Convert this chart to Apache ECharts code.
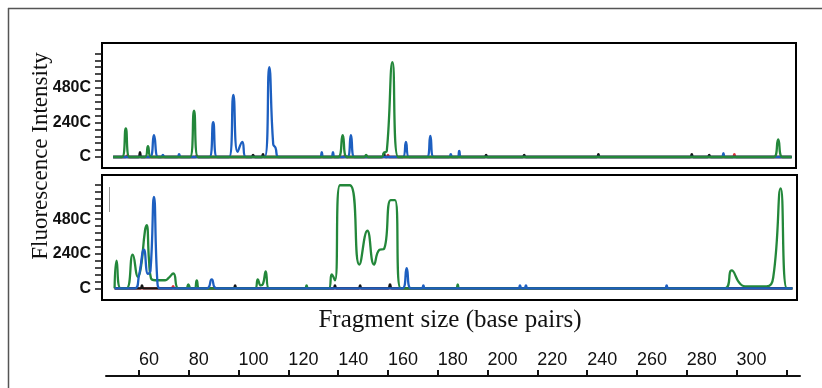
<!DOCTYPE html>
<html>
<head>
<meta charset="utf-8">
<script src="https://cdn.jsdelivr.net/npm/echarts@6/dist/echarts.min.js"></script>
<style>
  html, body { margin: 0; padding: 0; background: #fff; }
  #chart { width: 822px; height: 388px; }
</style>
</head>
<body>
<div id="chart"></div>
<script>
// fragment size ticks (base pairs)
const xTicks = [60, 80, 100, 120, 140, 160, 180, 200, 220, 240, 260, 280, 300, 320];
const xLabels = [60, 80, 100, 120, 140, 160, 180, 200, 220, 240, 260, 280, 300];
// fluorescence ticks
const yTicks = [0, 480, 960, 1440, 1920, 2400, 2880, 3360, 3840, 4320, 4800, 5280, 5760, 6240, 6720, 7200];
const yLabelValues = [0, 2400, 4800];
const yLabels = ['C', '240C', '480C'];

// top trace, [size bp, intensity]
const topGreen = [
  [49.6, 0], [53.2, 0], [54.7, 1990], [56.2, 0],
  [62.4, 0], [63.6, 750], [64.8, 0],
  [80.5, 0], [82.1, 3220], [83.7, 0],
  [140.0, 0], [141.8, 1510], [143.5, 0],
  [150.5, 0], [151.2, 150], [152.0, 0],
  [157.4, 0], [158.4, 300], [159.5, 400], [161.8, 6590], [164.1, 0],
  [315.0, 0], [316.7, 1230], [318.4, 0],
  [322.1, 0]
];
const topBlue = [
  [49.6, 0], [64.4, 0], [66.0, 1510], [67.6, 0],
  [69.0, 0], [69.6, 150], [70.3, 0],
  [75.5, 0], [76.1, 200], [76.8, 0],
  [88.3, 0], [89.8, 2420], [91.3, 0],
  [96.2, 0], [97.9, 4320], [99.6, 350], [101.5, 1050], [102.9, 0],
  [110.5, 0], [112.3, 6240], [113.9, 900], [114.8, 650], [116.0, 0],
  [132.8, 0], [133.4, 340], [134.0, 0],
  [137.3, 0], [137.9, 340], [138.5, 0],
  [143.7, 0], [145.1, 1510], [146.5, 0],
  [166.0, 0], [167.2, 1050], [168.4, 0],
  [175.7, 0], [177.0, 1460], [178.3, 0],
  [184.6, 0], [185.2, 200], [185.8, 0],
  [188.0, 0], [188.6, 430], [189.3, 0],
  [294.1, 0], [294.7, 270], [295.3, 0],
  [322.1, 0]
];
const topBlack = [
  [49.6, 0], [59.8, 0], [60.4, 340], [61.0, 0],
  [105.2, 0], [105.8, 150], [106.5, 0],
  [109.2, 0], [109.8, 200], [110.4, 0],
  [157.8, 0], [158.4, 300], [159.0, 0],
  [198.8, 0], [199.4, 150], [200.0, 0],
  [214.1, 0], [214.7, 150], [215.3, 0],
  [243.9, 0], [244.5, 200], [245.1, 0],
  [281.4, 0], [282.0, 200], [282.6, 0],
  [288.4, 0], [289.0, 150], [289.6, 0],
  [322.1, 0]
];
const topRed = [
  [49.6, 0], [54.6, 0], [55.2, 100], [55.8, 0],
  [82.6, 0], [83.2, 100], [83.8, 0],
  [142.1, 0], [142.7, 120], [143.3, 0],
  [159.4, 0], [160.0, 150], [160.6, 0],
  [298.5, 0], [299.1, 200], [299.7, 0],
  [322.1, 0]
];

// bottom trace
const botGreen = [
  [50.2, 0], [51.0, 1920], [52.6, 0],
  [55.0, 0], [57.5, 2330], [59.6, 800], [60.8, 1500], [62.4, 4000], [63.1, 4390], [64.0, 2000], [64.8, 700],
  [66.5, 560], [70.5, 560], [71.8, 700], [73.8, 1030], [75.8, 0],
  [79.0, 0], [79.8, 270], [80.8, 0],
  [82.3, 0], [83.2, 550], [84.2, 0],
  [106.6, 0], [107.7, 620], [108.9, 200], [109.8, 300], [110.9, 1170], [112.2, 0],
  [126.7, 0], [127.3, 200], [127.9, 0],
  [136.2, 0], [137.4, 960], [138.7, 550], [140.7, 7160], [144.7, 7160], [148.5, 1650],
  [151.7, 4000], [154.4, 1650], [156.5, 2670], [158.4, 2740], [161.1, 6130], [162.8, 6130], [165.1, 0],
  [187.4, 0], [188.0, 270], [188.6, 0],
  [295.3, 0], [298.0, 1240], [301.5, 300], [304.3, 140], [312.0, 140], [314.7, 750], [317.7, 6950], [320.2, 0],
  [322.4, 0]
];
const botBlue = [
  [50.2, 0], [58.4, 0], [60.0, 900], [62.0, 2680], [63.6, 1000], [64.6, 1200], [66.0, 6360], [67.4, 400], [68.4, 0],
  [87.2, 0], [89.2, 620], [91.2, 0],
  [165.9, 0], [167.5, 1400], [169.1, 0],
  [173.6, 0], [174.2, 200], [174.8, 0],
  [212.4, 0], [213.0, 200], [213.6, 0],
  [214.8, 0], [215.4, 200], [216.0, 0],
  [271.3, 0], [271.9, 200], [272.5, 0],
  [322.4, 0]
];
const botBlack = [
  [50.2, 0], [60.6, 0], [61.2, 200], [61.8, 0],
  [98.0, 0], [98.6, 200], [99.2, 0],
  [138.1, 0], [138.7, 200], [139.3, 0],
  [148.2, 0], [148.8, 200], [149.4, 0],
  [160.0, 0], [160.8, 270], [161.6, 0],
  [322.4, 0]
];
const botRed = [
  [50.2, 0], [73.1, 0], [73.7, 150], [74.3, 0],
  [322.4, 0]
];

const GREEN = '#23873a';
const BLUE = '#1d5fc0';
const BLACK = '#151515';
const RED = '#e0303a';

function trace(data, color, idx) {
  return {
    type: 'line',
    xAxisIndex: idx,
    yAxisIndex: idx,
    data: data,
    smooth: 0.5,
    showSymbol: false,
    silent: true,
    lineStyle: {color: color, width: 2.3},
    itemStyle: {color: color}
  };
}

function panelY(idx, min, max) {
  return {
    gridIndex: idx,
    type: 'value',
    min: min,
    max: max,
    axisLine: {show: false},
    splitLine: {show: false},
    axisTick: {
      customValues: yTicks,
      length: 7,
      lineStyle: {color: '#111', width: 1.5}
    },
    axisLabel: {
      customValues: yLabelValues,
      formatter: v => yLabels[yLabelValues.indexOf(v)],
      margin: 11,
      padding: [0, 0, 10, 0],
      color: '#111',
      fontSize: 16,
      fontWeight: 'bold',
      fontFamily: 'Liberation Sans'
    }
  };
}

const chart = echarts.init(document.getElementById('chart'));
chart.setOption({
  animation: false,
  grid: [
    {left: 102, top: 43, width: 694, height: 125, show: true, borderColor: '#000', borderWidth: 2},
    {left: 102, top: 175, width: 695, height: 125, show: true, borderColor: '#000', borderWidth: 2},
    {left: 106, top: 375, width: 694, height: 1}
  ],
  xAxis: [
    {gridIndex: 0, type: 'value', min: 45.14, max: 323.85, show: false},
    {gridIndex: 1, type: 'value', min: 45.14, max: 324.25, show: false},
    {
      gridIndex: 2, type: 'value', min: 46.75, max: 325.5,
      splitLine: {show: false},
      axisLine: {lineStyle: {color: '#111', width: 2}},
      axisTick: {customValues: xTicks, inside: true, length: 6, lineStyle: {color: '#111', width: 2}},
      axisLabel: {
        customValues: xLabels,
        inside: true,
        align: 'left',
        margin: 7,
        color: '#111',
        fontSize: 18,
        fontFamily: 'Liberation Sans'
      }
    }
  ],
  yAxis: [
    panelY(0, -765, 7923),
    panelY(1, -813, 7874),
    {gridIndex: 2, type: 'value', show: false}
  ],
  graphic: [
    {type: 'line', shape: {x1: 8, y1: 8.5, x2: 822, y2: 8.5}, style: {stroke: '#555', lineWidth: 1.5}},
    {type: 'line', shape: {x1: 8.5, y1: 8, x2: 8.5, y2: 388}, style: {stroke: '#555', lineWidth: 1.5}},
    {type: 'line', shape: {x1: 109.5, y1: 187, x2: 109.5, y2: 212}, style: {stroke: '#999', lineWidth: 1}},
    {
      type: 'text', x: 450, y: 320,
      style: {text: 'Fragment size (base pairs)', font: '25px "Liberation Serif"', fill: '#111', align: 'center', verticalAlign: 'middle'}
    },
    {
      type: 'text', x: 41, y: 156, rotation: Math.PI / 2,
      style: {text: 'Fluorescence Intensity', font: '23px "Liberation Serif"', fill: '#111', align: 'center', verticalAlign: 'middle'}
    }
  ],
  series: [
    trace(topRed, RED, 0),
    trace(topBlack, BLACK, 0),
    trace(topBlue, BLUE, 0),
    trace(topGreen, GREEN, 0),
    trace(botRed, RED, 1),
    trace(botBlack, BLACK, 1),
    trace(botGreen, GREEN, 1),
    trace(botBlue, BLUE, 1)
  ]
});
</script>
</body>
</html>
